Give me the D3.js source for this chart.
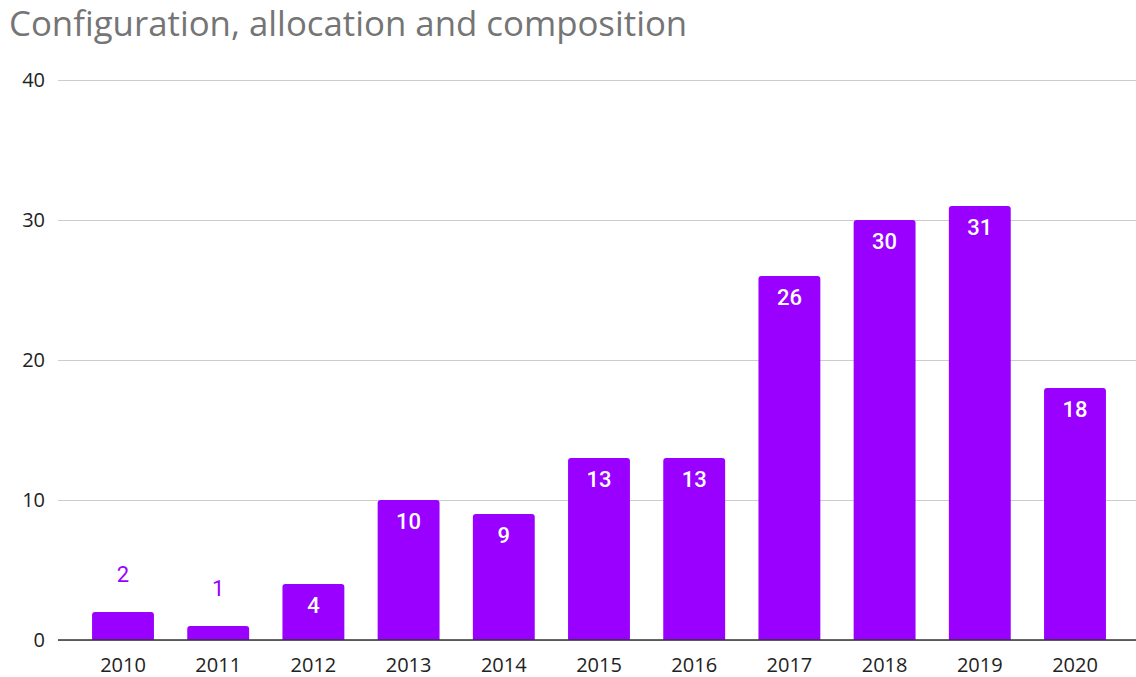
<!DOCTYPE html>
<html>
<head>
<meta charset="utf-8">
<script src="https://cdn.jsdelivr.net/npm/d3@7/dist/d3.min.js"></script>
<style>
  html, body { margin: 0; padding: 0; background: #fff; }
  svg { display: block; }
</style>
</head>
<body>
<svg id="chart" width="1136" height="677"></svg>
<script>
const years = ["2010", "2011", "2012", "2013", "2014", "2015", "2016", "2017", "2018", "2019", "2020"];
const counts = [2, 1, 4, 10, 9, 13, 13, 26, 30, 31, 18];
const yTicks = [0, 10, 20, 30, 40];
const title = "Configuration, allocation and composition";

const svg = d3.select("#chart");
const barColor = "#9900ff";

const x = d3.scaleBand()
  .domain(years)
  .range([75.4, 1122.6])
  .paddingInner(0.35)
  .paddingOuter(0.175);

const y = d3.scaleLinear().domain([0, 40]).range([640, 80]);

// Title
svg.append("text")
  .attr("x", 9)
  .attr("y", 36)
  .attr("font-family", "'Open Sans', sans-serif")
  .attr("font-size", 34.8)
  .attr("fill", "#757575")
  .text(title);

// Gridlines and y tick labels
const yAxis = d3.axisLeft(y).tickValues(yTicks).tickSize(-(1136 - 58)).tickPadding(13);
const gy = svg.append("g").attr("transform", "translate(58,0)").call(yAxis);
gy.select(".domain").remove();
gy.selectAll(".tick line").attr("stroke", "#cccccc").attr("stroke-width", 1.2);
gy.selectAll(".tick text")
  .attr("font-family", "'Open Sans', sans-serif")
  .attr("font-size", 20)
  .attr("fill", "#222");

// Bars with slightly rounded top corners
function barPath(d, i) {
  const x0 = x(years[i]), w = x.bandwidth();
  const yt = y(d), yb = y(0), r = Math.min(3, (yb - yt));
  return `M${x0},${yb} V${yt + r} Q${x0},${yt} ${x0 + r},${yt} H${x0 + w - r} Q${x0 + w},${yt} ${x0 + w},${yt + r} V${yb} Z`;
}
svg.append("g").selectAll("path")
  .data(counts)
  .join("path")
  .attr("d", (d, i) => barPath(d, i))
  .attr("fill", barColor);

// Baseline
svg.append("line")
  .attr("x1", 58).attr("x2", 1136)
  .attr("y1", y(0)).attr("y2", y(0))
  .attr("stroke", "#333").attr("stroke-width", 1.5);

// X axis labels
const xAxis = d3.axisBottom(x).tickSize(0).tickPadding(17.5);
const gx = svg.append("g").attr("transform", `translate(0,${y(0)})`).call(xAxis);
gx.select(".domain").remove();
gx.selectAll(".tick text")
  .attr("font-family", "'Open Sans', sans-serif")
  .attr("font-size", 20)
  .attr("fill", "#222");

// Value labels: inside bars when tall enough, above otherwise
const fitsInside = d => (y(0) - y(d)) >= 30;
svg.append("g").selectAll("text")
  .data(counts)
  .join("text")
  .attr("x", (d, i) => x(years[i]) + x.bandwidth() / 2)
  .attr("y", d => fitsInside(d) ? y(d) + 29 : y(d) - 30)
  .attr("text-anchor", "middle")
  .attr("font-family", "Roboto, sans-serif")
  .attr("font-weight", d => fitsInside(d) ? 500 : 400)
  .attr("font-size", 22)
  .attr("fill", d => fitsInside(d) ? "#ffffff" : barColor)
  .text(d => d);
</script>
</body>
</html>
